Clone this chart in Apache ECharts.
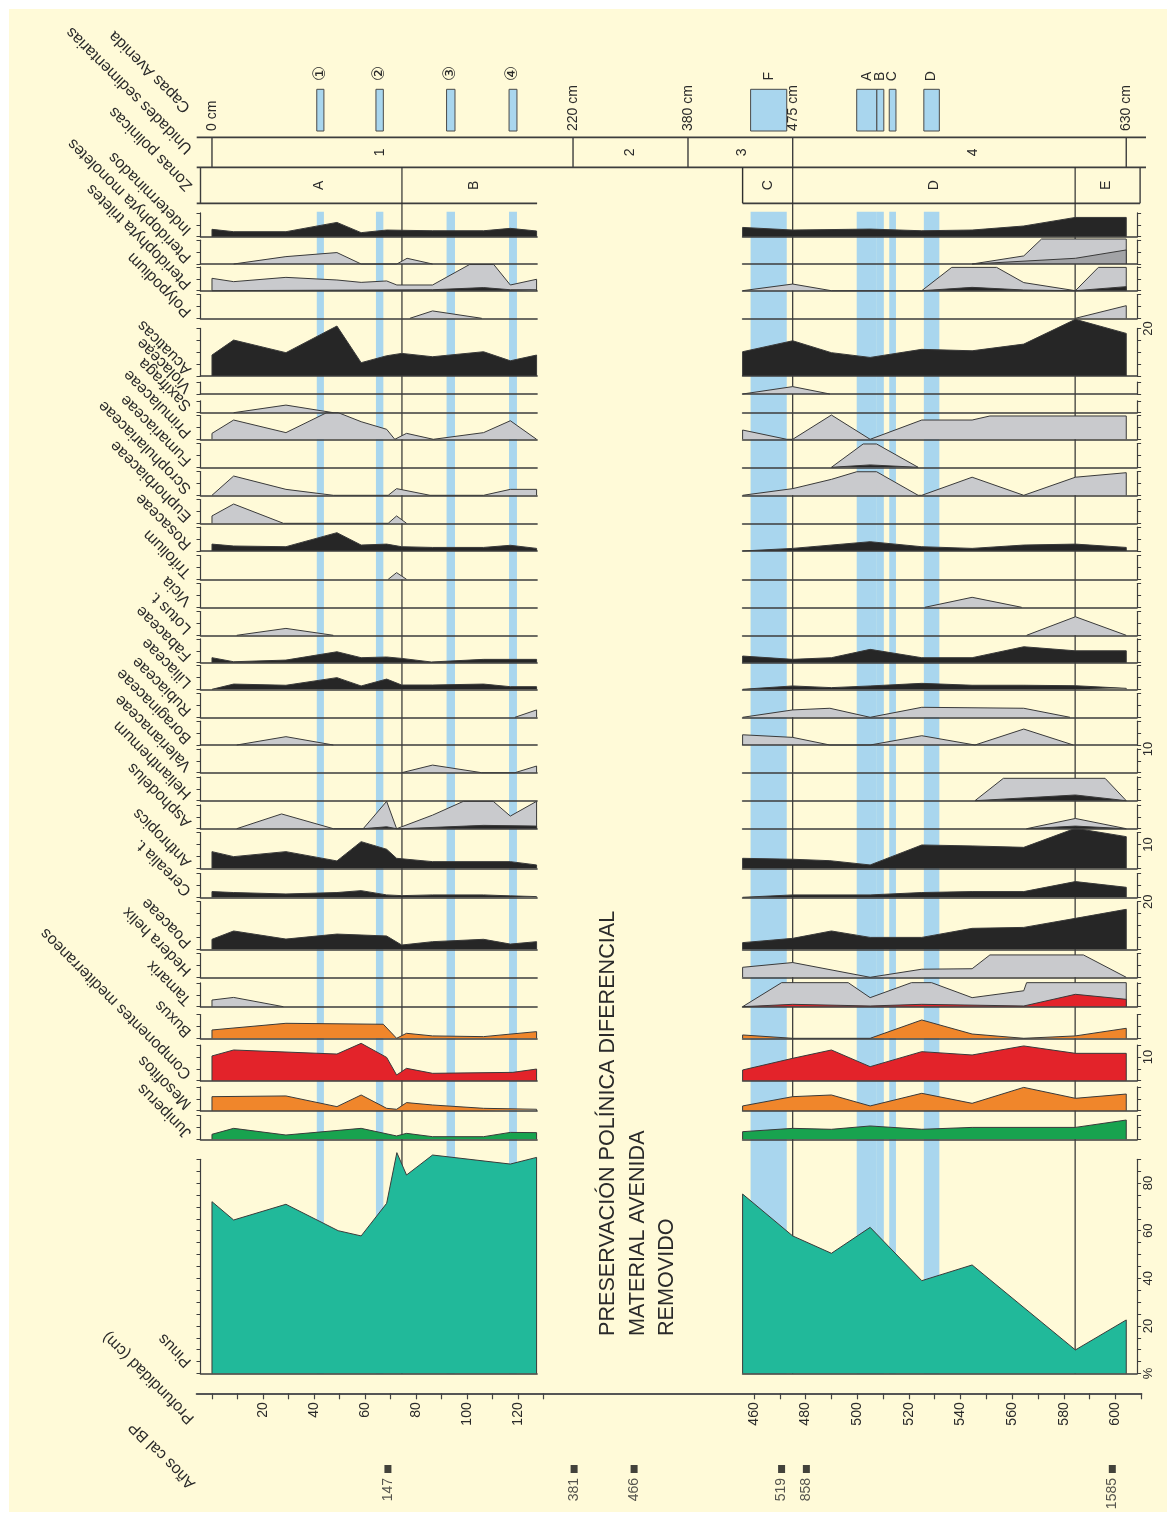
<!DOCTYPE html>
<html lang="es">
<head>
<meta charset="utf-8">
<title>Diagrama polínico</title>
<script src="https://cdn.jsdelivr.net/npm/echarts@6.0.0/dist/echarts.min.js"></script>
<style>
  html, body { margin: 0; padding: 0; background: #ffffff; }
  #sheet { position: absolute; left: 9px; top: 9px; width: 1158px; height: 1503px; background: #fffad8; }
  #chart { position: absolute; left: 0; top: 0; width: 1176px; height: 1517px; }
</style>
</head>
<body>
<div id="sheet"></div>
<div id="chart"></div>
<script>
// ---------------------------------------------------------------
// Pollen curves as [depth (cm), %] pairs.
// Every taxon holds two lists: upper section (0–127 cm) and
// lower section (455–605 cm). "Ex" lists are the x10 silhouettes.
// ---------------------------------------------------------------
const taxa = ['Indeterminados', 'Pteridophyta monoletes', 'Pteridophyta triletes', 'Polypodium',
  'Acuaticas', 'Violaceae', 'Saxifraga', 'Primulaceae', 'Fumariaceae', 'Scrophulariaceae',
  'Euphorbiaceae', 'Rosaceae', 'Trifolium', 'Vicia', 'Lotus t.', 'Fabaceae', 'Liliaceae',
  'Rubiaceae', 'Boraginaceae', 'Valerianaceae', 'Helianthemum', 'Asphodelus', 'Anthropics',
  'Cerealia t.', 'Poaceae', 'Hedera helix', 'Tamarix', 'Buxus', 'Componentes mediterraneos',
  'Mesofitos', 'Juniperus', 'Pinus'];

const indeterminados = [
  [[0,3.1],[8.5,2.1],[29,2.1],[49,6.0],[58.5,1.7],[68.5,2.8],[86.5,2.5],[106.5,2.5],[117,3.5],[127.3,2.4]],
  [[455.6,3.9],[475,2.8],[505,3.2],[525,2.5],[544.5,2.8],[564.5,4.5],[584.5,8.1],[604.2,8.1]]
];
const pteridoMonoletesEx = [
  [[8.5,0],[29,3.1],[49,4.8],[58.5,0],[72.5,0],[76.5,2.4],[86.5,0]],
  [[544.5,0],[564.5,3.4],[571.4,10.5],[604.2,10.5]]
];
const pteridoMonoletes = [[], [[544.5,0],[584.5,2.4],[604.2,5.9]]];
const pteridoTriletesEx = [
  [[0,5.2],[8.5,3.8],[29,5.6],[49,4.5],[58.5,3.5],[68.5,4.1],[72.5,2.4],[86.5,2.4],[101,11],[110.5,11],[117,2.4],[127.3,4.8]],
  [[455.6,0],[475,2.8],[490,0],[525,0],[536.6,9.8],[554,9.8],[564.5,3.4],[584.5,0],[593.4,9.8],[604.2,9.8]]
];
const pteridoTriletes = [
  [[0,0.4],[86.5,0.4],[106.5,1.3],[117,0.4],[127.3,0.4]],
  [[525,0],[544.5,1.4],[564.5,0.3],[584.5,0],[604.2,1.7]]
];
const polypodiumEx = [[[77.6,0],[86.5,3.1],[105.8,0]], [[584.5,0],[604.2,5.3]]];
const acuaticas = [
  [[0,8.8],[8.5,15.1],[29,9.8],[49,21],[58.5,5.6],[68.5,8.5],[74.4,9.5],[86.5,8.1],[106.5,10.2],[117,6.4],[127.3,8.8]],
  [[455.6,10.2],[475,14.8],[490,9.8],[505,7.8],[525,11.2],[544.5,10.6],[564.5,13.4],[584.5,23.8],[604.2,17.9]]
];
const violaceaeEx = [[], [[455.6,0],[475,3.1],[489.4,0]]];
const saxifragaEx = [[[8.5,0],[29,3.2],[47.6,0]], []];
const primulaceaeEx = [
  [[0,2.5],[8.5,8.1],[29,2.8],[45,11.2],[49.5,11.2],[58.5,7.4],[68.5,4.2],[71.7,0],[76.3,2.5],[86.8,0],[106.5,2.8],[117,7.8],[127.3,0]],
  [[455.6,3.9],[472.7,0],[475,0],[490,10.2],[505,0],[525,8.1],[544.5,8.1],[551.4,9.8],[604.2,9.8]]
];
const fumariaceaeEx = [[], [[490,0],[502.3,9.8],[507.5,9.8],[523.6,0]]];
const fumariaceae = [[], [[490,0],[505,1.0],[523.6,0]]];
const scrophulariaceaeEx = [
  [[0,0],[8.5,8.1],[29,2.5],[47.6,0],[69.1,0],[72.4,2.8],[85.5,0],[106.5,0],[117,2.5],[127.3,2.5]],
  [[455.6,0],[475,2.8],[490,6.7],[499.8,9.9],[507.5,9.9],[523.6,0],[525,0],[544.5,7.6],[564.5,0],[584.5,7.6],[604.2,9.5]]
];
const euphorbiaceaeEx = [[[0,3.1],[8.5,8.1],[28,0],[69.1,0],[72.4,3.1],[76.3,0]], []];
const rosaceae = [
  [[0,2.9],[8.5,2.1],[29,1.8],[49,7.7],[58.5,2.5],[68.5,2.9],[74.4,1.8],[86.5,1.5],[106.5,1.5],[117,2.4],[127.3,1.1]],
  [[455.6,0.4],[475,1.1],[505,3.9],[525,1.8],[544.5,1.1],[564.5,2.5],[584.5,2.9],[604.2,1.5]]
];
const trifoliumEx = [[[69.1,0],[72.4,2.8],[76.3,0]], []];
const viciaEx = [[], [[526.2,0],[544.5,4.2],[563.7,0]]];
const lotusEx = [[[9.7,0],[29,2.9],[47.6,0]], [[565.6,0],[584.5,7.8],[604.2,0]]];
const fabaceae = [
  [[0,2.1],[8.5,0.4],[29,1.1],[49,4.6],[58.5,2.1],[68.5,2.4],[74.4,1.8],[86,0.3],[106.5,1.4],[127.3,1.4]],
  [[455.6,2.8],[475,1.4],[490,2.1],[505,5.6],[525,2.1],[544.5,2.1],[564.5,6.7],[584.5,5.0],[604.2,5.0]]
];
const liliaceae = [
  [[0,0],[8.5,2.2],[29,1.7],[49,4.9],[58.5,1.4],[68.5,4.3],[74.4,1.8],[86.5,1.8],[106.5,2.2],[117,1.1],[127.3,1.1]],
  [[455.6,0.8],[475,1.4],[490,0.7],[505,1.4],[525,2.5],[544.5,1.7],[564.5,1.7],[584.5,1.5],[604.2,0.4]]
];
const rubiaceaeEx = [[[118.8,0],[127.3,3.1]],
  [[455.6,0],[475,3.1],[489.4,3.8],[505,0],[525,4.2],[564.5,3.8],[582.4,0]]];
const boraginaceaeEx = [[[9.7,0],[29,3.5],[47.6,0]],
  [[455.6,4.3],[475,3.2],[489.4,0],[505,0],[525,3.9],[545.6,0],[564.5,6.7],[583.7,0]]];
const valerianaceaeEx = [[[74.4,0],[86.5,3.2],[105.8,0],[118.8,0],[127.3,2.8]], []];
const helianthemumEx = [[], [[545.6,0],[556.6,9.4],[596,9.4],[604.2,0]]];
const helianthemum = [[], [[545.6,0],[584.5,2.4],[604.2,0]]];
const asphodelusEx = [
  [[9.7,0],[27.3,6.2],[47.6,0],[59.3,0],[68.5,11.5],[72.4,0],[74.4,0.8],[86.5,5.7],[98.6,11.5],[110.3,11.5],[117,5.3],[127.3,11.5]],
  [[565.6,0],[584.5,4.3],[604.2,0]]
];
const asphodelus = [[[59.3,0],[68.5,0.8],[72.4,0],[74.4,0],[106.5,1.4],[127.3,1.1]],
  [[565.6,0],[584.5,1.1],[604.2,0]]];
const anthropics = [
  [[0,7.0],[8.5,4.9],[29,7.0],[49,3.1],[58.5,11.2],[68.5,8.0],[72.4,4.2],[86.5,2.8],[117,2.8],[127.3,1.4]],
  [[455.6,4.2],[475,3.8],[489.4,3.2],[505,1.4],[525,9.8],[544.5,9.4],[564.5,8.8],[584.5,16.8],[604.2,13.3]]
];
const cerealia = [
  [[0,2.4],[8.5,2.0],[29,1.4],[49,2.0],[58.5,2.8],[68.5,1.0],[74.4,0.7],[86.5,1.0],[106.5,1.0],[117,0.6],[127.3,0.3]],
  [[455.6,0.6],[475,1.0],[505,1.0],[525,2.0],[544.5,2.4],[564.5,2.4],[584.5,6.6],[604.2,4.2]]
];
const poaceae = [
  [[0,4.2],[8.5,7.7],[29,4.3],[49,6.4],[68.5,5.6],[74.4,1.8],[86.5,3.2],[106.5,4.2],[117,2.2],[127.3,3.2]],
  [[455.6,2.8],[475,4.6],[490,7.7],[505,5.0],[525,5.0],[544.5,8.8],[564.5,9.2],[584.5,13.0],[604.2,16.8]]
];
const hederaEx = [[], [[455.6,4.2],[475,6.2],[505,0],[525,3.4],[544.5,3.6],[551.4,9.4],[587.6,9.4],[604.2,0]]];
const tamarixEx = [[[0,2.8],[8.5,3.9],[28,0]],
  [[455.6,0],[470.7,10.1],[496.5,10.1],[505,3.8],[521,10.1],[528.8,10.1],[544.5,3.8],[564.5,6.7],[565.6,10.1],[604.2,10.1]]];
const tamarix = [[], [[455.6,0],[475,1.0],[505,0.3],[525,1.0],[564.5,0.3],[584.5,5.2],[604.2,3.1]]];
const buxus = [
  [[0,3.5],[29,6.3],[67.2,5.9],[72.4,0],[76.3,2.1],[86.5,1.0],[106.5,0.7],[127.3,2.8]],
  [[455.6,1.4],[475,0],[505,0],[525,7.7],[544.5,1.8],[564.5,0],[584.5,1.0],[604.2,4.2]]
];
const mediterraneos = [
  [[0,10.4],[8.5,12.9],[49,11.2],[58.5,15.7],[68.5,9.8],[72.4,2.4],[76.3,5.2],[86.5,3.1],[118,3.5],[127.3,4.9]],
  [[455.6,4.5],[475,9.4],[490,12.9],[505,5.9],[525,12.2],[544.5,10.8],[564.5,14.6],[584.5,11.5],[604.2,11.5]]
];
const mesofitos = [
  [[0,5.9],[29,6.2],[49,1.7],[58.5,6.6],[68.5,1.0],[72.4,0.6],[76.3,3.4],[86.5,2.4],[106.5,1.0],[127.3,0.6]],
  [[455.6,2.0],[475,5.9],[490,6.6],[505,2.0],[525,7.3],[544.5,3.1],[564.5,9.8],[584.5,5.2],[604.2,7.0]]
];
const juniperus = [
  [[0,2.1],[8.5,4.6],[29,1.8],[58.5,4.6],[72.4,1.4],[76.3,2.5],[86.5,1.1],[106.5,1.1],[117,2.9],[127.3,2.8]],
  [[455.6,3.2],[475,4.6],[490,4.2],[505,5.6],[525,4.2],[544.5,5.0],[584.5,5.0],[604.2,8.1]]
];
const pinus = [
  [[0,72.2],[8.5,64.5],[29,71.1],[49.5,60.0],[58.5,57.8],[68.5,71.5],[72.5,92.8],[76.3,83.4],[86.5,91.8],[117,88.0],[127.3,90.8]],
  [[455.6,75.4],[475,57.8],[490,50.5],[505,61.4],[525,39.0],[544.5,45.6],[584.5,9.9],[604.2,22.5]]
];

// flood layers (Capas Avenida), depth ranges in cm
const capasUpper = [[41.1,43.9],[64.3,67.2],[92.0,95.3],[116.5,119.6]];
const capasUpperNames = ['①','②','③','④'];
const capasLower = [[458.7,472.7],[499.8,507.6],[507.6,510.3],[512.4,515.0],[525.8,531.8]];
const capasLowerNames = ['F','A','B','C','D'];

// sedimentary units and pollen zones
const unitBounds = [0, 220, 380, 475, 630];
const unitNames = ['1','2','3','4'];
const unitLabelAt = [66, 300, 455, 545];
const zoneBounds = [74.5, 455.6, 475, 584.4];
const zoneNames = ['A','B','C','D','E'];
const zoneLabelAt = [42, 103, 465.3, 529.7, 596.4];

// radiocarbon dates (Años cal BP) and their depths
const dateDepths = [69, 221.5, 305, 470.7, 480.3, 598.8];
const dateAges = ['147','381','466','519','858','1585'];

// depth axis ticks and labels
const ticksUpper = [0,10,20,30,40,50,60,70,80,90,100,110,120,130];
const labelsUpper = [20,40,60,80,100,120];
const ticksLower = [460,470,480,490,500,510,520,530,540,550,560,570,580,590,600,610];
const labelsLower = [460,480,500,520,540,560,580,600];

// ---------------------------------------------------------------
// Which curves go in which row, top to bottom
// ---------------------------------------------------------------
const rowCurves = [
  [null, indeterminados], [pteridoMonoletesEx, pteridoMonoletes], [pteridoTriletesEx, pteridoTriletes],
  [polypodiumEx, null], [null, acuaticas], [violaceaeEx, null], [saxifragaEx, null],
  [primulaceaeEx, null], [fumariaceaeEx, fumariaceae], [scrophulariaceaeEx, null],
  [euphorbiaceaeEx, null], [null, rosaceae], [trifoliumEx, null], [viciaEx, null], [lotusEx, null],
  [null, fabaceae], [null, liliaceae], [rubiaceaeEx, null], [boraginaceaeEx, null],
  [valerianaceaeEx, null], [helianthemumEx, helianthemum], [asphodelusEx, asphodelus],
  [null, anthropics], [null, cerealia], [null, poaceae], [hederaEx, null], [tamarixEx, tamarix],
  [null, buxus], [null, mediterraneos], [null, mesofitos], [null, juniperus], [null, pinus]
];

// ---------------------------------------------------------------
// Layout and styling
// ---------------------------------------------------------------
const FONT = '"Liberation Sans", Arial, sans-serif';
const INK = '#2a2a2a';
const K = 2.38;                       // px per percent, same for every row
const rowBase = [236.7, 264, 290.7, 318.3, 376, 394, 412.7, 439.3, 467.3, 495.3, 523.3, 551,
  579.3, 607.3, 635.3, 662.7, 689.3, 717.3, 745, 772.7, 800.7, 828.7, 868.3, 897.3, 949.3,
  977.3, 1006.7, 1038.3, 1080.7, 1110.7, 1139.3, 1373.5];
const rowMax = [10,10,10,10,20,5,5,10,10,10,10,10,10,10,10,10,10,10,10,10,10,10,15,10,20,10,10,10,15,10,10,90];
const COL = { black: '#262626', grey: '#c9cacd', mid: '#a2a3a6', orange: '#f0862b',
  red: '#e3232a', green: '#18a34f', teal: '#21b99a', band: '#a9d6ee' };
const rowFill = ['black','mid','black','black','black','black','black','black','black','black',
  'black','black','black','black','black','black','black','black','black','black','black','black',
  'black','black','black','black','red','orange','red','orange','green','teal'];
const rightLabels = { 4: [20], 19: [10], 22: [10], 24: [20], 28: [10], 31: [0,20,40,60,80] };

const SEG = {
  L: { left: 200.5, width: 336.6, min: -4.5, max: 127.5 },
  G: { left: 537.1, width: 205.5, min: 170, max: 456 },
  R: { left: 742.6, width: 394.5, min: 455.6, max: 608.4 }
};

const grids = [], xAxes = [], yAxes = [], series = [];
const hidden = { axisLine: { show: false }, axisTick: { show: false }, axisLabel: { show: false }, splitLine: { show: false } };

function addPanel(geom, top, height, xOpt, yOpt) {
  grids.push({ left: geom.left, top, width: geom.width, height, containLabel: false, outerBoundsMode: 'none' });
  const gi = grids.length - 1;
  xAxes.push(Object.assign({ gridIndex: gi, type: 'value', min: geom.min, max: geom.max }, hidden, xOpt || {}));
  yAxes.push(Object.assign({ gridIndex: gi, type: 'value', min: 0, max: 1 }, hidden, yOpt || {}));
  return gi;
}

function closeEnds(pts) {
  if (!pts || !pts.length) return [];
  const out = pts.slice();
  if (out[0][1] !== 0) out.unshift([out[0][0], 0]);
  if (out[out.length - 1][1] !== 0) out.push([out[out.length - 1][0], 0]);
  return out;
}
function areaSeries(pts, idx, fill, z) {
  return { type: 'line', xAxisIndex: idx, yAxisIndex: idx, data: closeEnds(pts), symbol: 'none',
    silent: true, animation: false, clip: false, z,
    lineStyle: { color: '#3a3a3a', width: 1 }, areaStyle: { color: fill, opacity: 1 } };
}

// background panels: flood-layer bands behind all pollen rows
['L', 'R'].forEach(seg => {
  const gi = addPanel(SEG[seg], 211.7, 1373.5 - 211.7);
  series.push({ type: 'custom', xAxisIndex: gi, yAxisIndex: gi, z: 1, silent: true, animation: false,
    data: seg === 'L' ? capasUpper : capasLower, encode: { x: [0, 1] },
    renderItem: (p, api) => {
      const a = api.coord([api.value(0), 0]), b = api.coord([api.value(1), 0]);
      const cs = p.coordSys;
      return { type: 'rect', shape: { x: a[0], y: cs.y, width: b[0] - a[0], height: cs.height },
        style: { fill: COL.band } };
    } });
});

// pollen rows
const AX = {};
rowBase.forEach((base, r) => {
  const M = rowMax[r], h = M * K, top = base - h;
  const [ex, main] = rowCurves[r];
  ['L', 'R'].forEach((seg, s) => {
    const isRight = seg === 'R';
    const lab = isRight && rightLabels[r];
    const gi = addPanel(SEG[seg], top, h,
      { axisLine: { show: true, onZero: false, lineStyle: { color: '#3d3d3d', width: 1.6 } }, z: 3 },
      { max: M, interval: 5, position: isRight ? 'right' : 'left', z: 3,
        axisLine: { show: true, onZero: false, lineStyle: { color: '#3d3d3d', width: 1.2 } },
        axisTick: { show: true, length: 4, lineStyle: { color: '#3d3d3d', width: 1 } },
        axisLabel: lab ? { show: true, customValues: lab, rotate: 90, margin: 5, fontSize: 13,
          fontFamily: FONT, color: INK, formatter: v => (v === 0 ? '%' : String(v)) } : { show: false } });
    if (r === 0) AX[seg] = gi;
    if (ex && ex[s].length) series.push(areaSeries(ex[s], gi, COL.grey, 2));
    if (main && main[s].length) series.push(areaSeries(main[s], gi, COL[rowFill[r]], 3));
  });
});

// flood layer bars (Capas Avenida row)
['L', 'R'].forEach(seg => {
  const gi = addPanel(SEG[seg], 89.3, 41.7);
  const names = seg === 'L' ? capasUpperNames : capasLowerNames;
  series.push({ type: 'custom', xAxisIndex: gi, yAxisIndex: gi, z: 3, silent: true, animation: false,
    data: seg === 'L' ? capasUpper : capasLower, encode: { x: [0, 1] },
    renderItem: (p, api) => {
      const a = api.coord([api.value(0), 0]), b = api.coord([api.value(1), 0]);
      const cs = p.coordSys;
      const circled = seg === 'L';
      return { type: 'group', children: [
        { type: 'rect', shape: { x: a[0], y: cs.y, width: b[0] - a[0], height: cs.height },
          style: { fill: COL.band, stroke: '#4a4a4a', lineWidth: 1 } },
        { type: 'text', x: (a[0] + b[0]) / 2, y: circled ? cs.y - 16 : cs.y - 13, rotation: Math.PI / 2,
          style: { text: names[p.dataIndex], fill: INK,
            font: circled ? '17px "DejaVu Sans", "Noto Sans CJK SC", sans-serif' : '14px ' + FONT,
            align: 'center', verticalAlign: 'middle' } }
      ] };
    } });
});

// radiocarbon dates row
['L', 'G', 'R'].forEach(seg => {
  const gi = addPanel(SEG[seg], 1464, 10);
  const pts = [], ages = [];
  dateDepths.forEach((d, i) => {
    if (d >= SEG[seg].min && d <= SEG[seg].max && !(seg === 'G' && (d <= 127.5 || d >= 455.6))) {
      pts.push([d, 0.5]); ages.push(dateAges[i]);
    }
  });
  series.push({ type: 'scatter', xAxisIndex: gi, yAxisIndex: gi, data: pts, symbol: 'rect',
    symbolSize: [7, 8], itemStyle: { color: '#141414' }, silent: true, animation: false, z: 3,
    label: { show: true, position: 'bottom', distance: 5, rotate: 90, align: 'right', verticalAlign: 'middle',
      fontSize: 14, fontFamily: FONT, color: INK, formatter: q => ages[q.dataIndex] } });
});

// depth axis at the foot of the diagram
const depthAxisStyle = { show: true, onZero: false, lineStyle: { color: '#555', width: 2 } };
addPanel({ left: 196.7, width: 346.8, min: -6, max: 130 }, 1392, 1.3, {
  axisLine: depthAxisStyle,
  axisTick: { show: true, customValues: ticksUpper, length: 6, lineStyle: { color: '#444', width: 1.2 } },
  axisLabel: { show: true, customValues: labelsUpper, rotate: 90, margin: 9, fontSize: 14, fontFamily: FONT, color: INK } });
addPanel({ left: 543.5, width: 189.8, min: 0, max: 1 }, 1392, 1.3, { axisLine: depthAxisStyle });
addPanel({ left: 733.3, width: 408, min: 452, max: 610 }, 1392, 1.3, {
  axisLine: depthAxisStyle,
  axisTick: { show: true, customValues: ticksLower, length: 6, lineStyle: { color: '#444', width: 1.2 } },
  axisLabel: { show: true, customValues: labelsLower, rotate: 90, margin: 9, fontSize: 14, fontFamily: FONT, color: INK } });
// gap segment axis (unit 2 interval), used for the schematic rows
AX.G = addPanel(SEG.G, 137.3, 30);

const chart = echarts.init(document.getElementById('chart'), null, { renderer: 'canvas', width: 1176, height: 1517 });
chart.setOption({ animation: false, backgroundColor: 'transparent', grid: grids, xAxis: xAxes, yAxis: yAxes, series });

// ---------------------------------------------------------------
// Frame, units, zones and all rotated labels
// ---------------------------------------------------------------
const segOf = d => (d <= 127.5 ? 'L' : d < 455.6 ? 'G' : 'R');
const px = d => {
  const seg = segOf(d);
  const v = seg === 'R' ? Math.min(d, 604.2) : d;      // unit 4 box closes at the base of the record
  return chart.convertToPixel({ xAxisIndex: AX[seg] }, v);
};
const els = [];
const line = (x1, y1, x2, y2, w, color) => els.push({ type: 'line', silent: true, z: 1,
  shape: { x1, y1, x2, y2 }, style: { stroke: color || '#3d3d3d', lineWidth: w || 1.4 } });
const text = (x, y, str, size, rot, align, va) => els.push({ type: 'text', silent: true, z: 6, x, y,
  rotation: rot || 0, style: { text: str, font: size + 'px ' + FONT, fill: INK,
    align: align || 'center', verticalAlign: va || 'middle' } });

const yU1 = 137.3, yU2 = 167.3, yZ2 = 203.3, yFoot = 1373.5;
const leftEdge = SEG.L.left, rightEdge = SEG.R.left + SEG.R.width;
line(196.7, yU1, 1146, yU1, 1.8);
line(196.7, yU2, 1146, yU2, 1.8);
line(196.7, yZ2, SEG.L.left + SEG.L.width, yZ2, 1.8);
line(SEG.R.left, yZ2, rightEdge + 3, yZ2, 1.8);

// sedimentary units
unitBounds.forEach(d => {
  const x = px(d);
  line(x, yU1, x, yU2, 1.4);
  text(x, 131, d + ' cm', 14, Math.PI / 2, 'left', 'middle');
});
unitNames.forEach((n, i) => text(px(unitLabelAt[i]), (yU1 + yU2) / 2, n, 14, Math.PI / 2));

// pollen zones (boundaries run down through the pollen rows)
line(leftEdge, yU2, leftEdge, yZ2, 1.4);
line(rightEdge + 3, yU2, rightEdge + 3, yZ2, 1.4);
zoneBounds.forEach(d => {
  const x = px(d);
  const inGap = Math.abs(d - 455.6) < 0.01;
  line(x, yU2, x, inGap ? yZ2 : yFoot, inGap ? 1.4 : 1.2, '#2e2e2e');
});
zoneNames.forEach((n, i) => text(px(zoneLabelAt[i]), (yU2 + yZ2) / 2, n, 14, Math.PI / 2));

// taxon names and row headers, slanted
const slant = Math.PI * 3 / 4;
text(188, 110, 'Capas Avenida', 16, slant, 'left', 'middle');
text(190, 151, 'Unidades sedimentarias', 16, slant, 'left', 'middle');
text(190, 188, 'Zonas polinicas', 16, slant, 'left', 'middle');
taxa.forEach((name, r) => text(189, rowBase[r] - (r === taxa.length - 1 ? 9 : 4), name, 16, slant, 'left', 'middle'));
text(192, 1421, 'Profundidad (cm)', 16, slant, 'left', 'middle');
text(193, 1486, 'Años cal BP', 16, slant, 'left', 'middle');

// note across the unsampled interval
text(608, 1336, 'PRESERVACIÓN POLÍNICA DIFERENCIAL', 21.6, Math.PI / 2, 'left', 'middle');
text(638, 1336, 'MATERIAL AVENIDA', 21.6, Math.PI / 2, 'left', 'middle');
text(667, 1336, 'REMOVIDO', 21.6, Math.PI / 2, 'left', 'middle');

chart.setOption({ graphic: { elements: els } });
</script>
</body>
</html>
